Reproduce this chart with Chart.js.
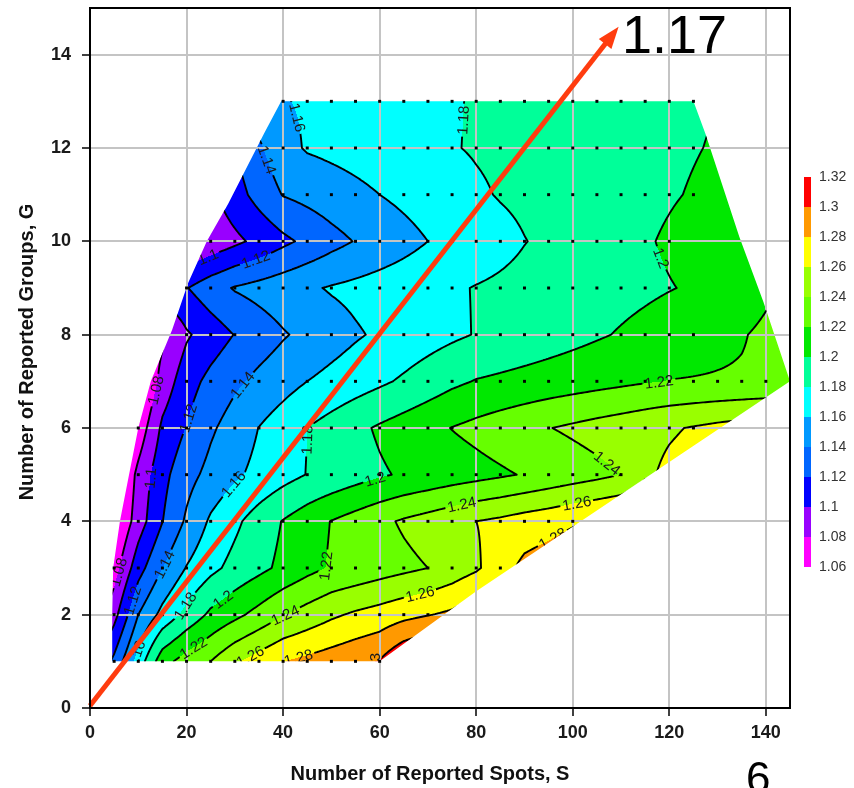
<!DOCTYPE html>
<html><head><meta charset="utf-8">
<script src="https://cdn.jsdelivr.net/npm/chart.js@4.4.1/dist/chart.umd.min.js"></script>
<style>html,body{margin:0;padding:0;background:#fff;}canvas{display:block;}</style>
</head><body>
<canvas id="c" width="854" height="788"></canvas>
<script>
// ---- data ----
const sCols = [0,5,10,15,20,25,30,35,40,45,50,55,60,65,70,75,80,85,90,95,100,105,110,115,120,125,130,135,140,145];
const gRows = [1,2,3,4,5,6,7,8,9,10,11,12,13];
const g1  = [1.09,1.125,1.168,1.212,1.229,1.24,1.257,1.269,1.28,1.285,1.29,1.2955,1.301,1.32,1.33,1.335,1.34,1.34,1.34,1.34,1.34,1.34,1.34,1.34,1.34,1.34,1.34,1.34,1.34,1.34];
const g2  = [1.06,1.093,1.14,1.166,1.186,1.204,1.215,1.2265,1.239,1.248,1.2566,1.263,1.268,1.274,1.279,1.284,1.295,1.305,1.31,1.31,1.31,1.31,1.31,1.31,1.31,1.31,1.31,1.31,1.31,1.31];
const g3  = [1.04,1.071,1.112,1.14,1.161,1.175,1.186,1.195,1.2045,1.214,1.222,1.226,1.231,1.2355,1.24,1.248,1.257,1.272,1.285,1.29,1.295,1.295,1.295,1.295,1.295,1.295,1.295,1.295,1.295,1.295];
const g4  = [1.02,1.055,1.09,1.1195,1.143,1.163,1.176,1.189,1.201,1.211,1.2206,1.228,1.2355,1.2424,1.248,1.254,1.26,1.264,1.269,1.273,1.2778,1.282,1.286,1.29,1.29,1.29,1.29,1.29,1.29,1.29];
const g5  = [1.01,1.047,1.0856,1.114,1.133,1.146,1.157,1.165,1.173,1.1806,1.186,1.192,1.1977,1.2023,1.206,1.21,1.2135,1.2173,1.2213,1.226,1.2306,1.235,1.24,1.2567,1.264,1.268,1.27,1.272,1.274,1.276];
const g6  = [1.0,1.04,1.067,1.104,1.121,1.137,1.149,1.1604,1.17,1.18,1.1877,1.1954,1.2024,1.2085,1.2145,1.2205,1.2252,1.23,1.2347,1.2394,1.2432,1.247,1.2505,1.2542,1.2578,1.2614,1.265,1.268,1.27,1.272];
const g7  = [1.0,1.02,1.05,1.0877,1.1117,1.1256,1.1363,1.145,1.1525,1.16,1.1656,1.1711,1.1767,1.1827,1.1893,1.196,1.201,1.2035,1.206,1.2085,1.211,1.2135,1.216,1.2185,1.2205,1.221,1.2215,1.222,1.223,1.224];
const g8  = [1.04,1.05,1.06,1.076,1.0975,1.1093,1.1207,1.1295,1.1382,1.1451,1.1515,1.1578,1.163,1.1675,1.1721,1.1766,1.1809,1.1843,1.1877,1.1911,1.1945,1.198,1.2014,1.2048,1.2083,1.2117,1.2152,1.2186,1.224,1.23];
const g9  = [1.07,1.09,1.10,1.11,1.119,1.1318,1.1415,1.1467,1.152,1.1573,1.1616,1.1648,1.1681,1.1713,1.1746,1.1778,1.1808,1.1831,1.1854,1.1877,1.19,1.1923,1.1946,1.1969,1.1993,1.2016,1.204,1.208,1.216,1.222];
const g10 = [1.04,1.05,1.06,1.07,1.078,1.086,1.0955,1.1052,1.1155,1.1246,1.1336,1.1409,1.1473,1.1536,1.16,1.1649,1.1698,1.1746,1.1795,1.1833,1.1872,1.1909,1.1947,1.1985,1.202,1.2055,1.209,1.2125,1.216,1.219];
const g11 = [1.05,1.055,1.06,1.07,1.08,1.096,1.1116,1.1272,1.1409,1.1456,1.1504,1.1552,1.16,1.1644,1.1688,1.1732,1.1775,1.1811,1.1836,1.1861,1.1886,1.1911,1.1936,1.1961,1.1986,1.2011,1.2036,1.206,1.208,1.21];
const g12 = [1.06,1.065,1.07,1.075,1.09,1.105,1.12,1.137,1.1536,1.1618,1.1647,1.1675,1.1705,1.1733,1.1762,1.1791,1.1814,1.1833,1.1853,1.1873,1.1893,1.1913,1.1933,1.1952,1.1972,1.1992,1.2012,1.203,1.205,1.207];
const g13 = [1.08,1.085,1.09,1.10,1.12,1.13,1.145,1.152,1.159,1.162,1.165,1.168,1.171,1.173,1.176,1.179,1.181,1.183,1.186,1.188,1.19,1.192,1.194,1.195,1.197,1.198,1.2,1.202,1.204,1.206];
const gridRows = [g1,g2,g3,g4,g5,g6,g7,g8,g9,g10,g11,g12,g13];

// data hull (S, G)
const hullS = [4.6,60,80,145,139.5,134.5,127.5,125,39.6,36,28.6,24.2,20.3,17,12.6,10,7.9,6.2,4.8,4.6];
const hullG = [1,1,2.5,7,8.7,10.1,12.3,13,13,12.3,10.8,10,9.1,8.1,7,6,4.9,4,3,2];

// sample points per row (first and last S)
const dotFirst = [5,5,5,10,10,10,20,20,20,25,40,40,40];
const dotLast  = [60,70,85,100,110,125,140,125,120,120,125,125,125];

const levels = [1.06,1.08,1.10,1.12,1.14,1.16,1.18,1.20,1.22,1.24,1.26,1.28,1.30,1.32];
const bandColors = ['#ff00ff','#9900ff','#0000ff','#0066ff','#0099ff','#00ffff','#00ff99','#00e800','#66ff00','#99ff00','#ffff00','#ff9900','#ff0000'];

const arrowS = [0, 109.5];
const arrowG = [0.05, 14.6];

const contourLabels = [
 ['1.16',41.5,12.6],['1.18',76.6,12.6],['1.14',32,11.6],['1.12',34,9.7],['1.1',24.5,9.65],['1.2',119,9.67],
 ['1.08',14,6.8],['1.12',20.7,6.2],['1.14',31,6.97],['1.16',28.6,4.9],['1.18',44,5.75],['1.1',12,4.93],
 ['1.2',59,4.93],['1.22',118,6.86],['1.24',108,5.36],['1.24',77,4.35],['1.26',100.8,4.4],['1.28',96,3.6],
 ['1.22',50.7,2.96],['1.26',68.3,2.47],['1.24',40.4,2.0],['1.2',27.3,2.36],['1.18',20,2.17],['1.14',15.5,3.07],
 ['1.12',8.9,2.3],['1.08',6.2,2.9],['1.16',9.3,1.15],['1.22',21.7,1.24],['1.26',32.7,1.2],['1.28',43,1.14],['1.3',57.4,1.14]
];

// ---- helpers ----
const FONT = '"Liberation Sans", Arial, Helvetica, sans-serif';
const sStep = sCols[1]-sCols[0];
function field(S,G){
  let fi = (S - sCols[0]) / sStep, fj = G - gRows[0];
  fi = Math.max(0, Math.min(sCols.length-1.000001, fi));
  fj = Math.max(0, Math.min(gRows.length-1.000001, fj));
  const i = Math.floor(fi), j = Math.floor(fj), u = fi-i, v = fj-j;
  const r0 = gridRows[j], r1 = gridRows[j+1];
  return (r0[i]*(1-u)+r0[i+1]*u)*(1-v) + (r1[i]*(1-u)+r1[i+1]*u)*v;
}
function bandOf(v){ let k=0; while(k<bandColors.length-1 && v>=levels[k+1]-1e-9) k++; return k; }
function hexRgb(h){ return [parseInt(h.substr(1,2),16),parseInt(h.substr(3,2),16),parseInt(h.substr(5,2),16)]; }
function hullPath(ctx,x,y){
  ctx.beginPath();
  hullS.forEach((s,k)=>{ const px=x.getPixelForValue(s), py=y.getPixelForValue(hullG[k]); if(k) ctx.lineTo(px,py); else ctx.moveTo(px,py); });
  ctx.closePath();
}

const dotPoints = [];
gRows.forEach((g,j)=>{ for(let s=dotFirst[j]; s<=dotLast[j]; s+=5) dotPoints.push({x:s,y:g}); });

const contourPlugin = {
  id:'contourField',
  beforeDraw(chart){
    const {ctx, chartArea:a, scales:{x,y}} = chart;
    const L = Math.round(a.left), T = Math.round(a.top);
    const w = Math.round(a.right)-L, h = Math.round(a.bottom)-T;
    const off = document.createElement('canvas'); off.width=w; off.height=h;
    const octx = off.getContext('2d'); const img = octx.createImageData(w,h);
    const rgb = bandColors.map(hexRgb);
    const Sx = new Float64Array(w); for(let px=0;px<w;px++) Sx[px]=x.getValueForPixel(L+px+0.5);
    for(let py=0;py<h;py++){
      const G = y.getValueForPixel(T+py+0.5);
      for(let px=0;px<w;px++){
        const c = rgb[bandOf(field(Sx[px],G))];
        const o=(py*w+px)*4; img.data[o]=c[0]; img.data[o+1]=c[1]; img.data[o+2]=c[2]; img.data[o+3]=255;
      }
    }
    octx.putImageData(img,0,0);
    ctx.save(); hullPath(ctx,x,y); ctx.clip(); ctx.drawImage(off,L,T); ctx.restore();
  },
  beforeDatasetsDraw(chart){
    const {ctx, chartArea:a, scales:{x,y}} = chart;
    const fpx=(px,py)=>field(x.getValueForPixel(px), y.getValueForPixel(py));
    ctx.font = '15px '+FONT;
    const labs=[];
    contourLabels.forEach(([t,s0,g0])=>{
      const Lv=parseFloat(t); let px=x.getPixelForValue(s0), py=y.getPixelForValue(g0); const px0=px, py0=py;
      let ok=false;
      for(let it=0;it<40;it++){
        const f=fpx(px,py)-Lv; const gx=(fpx(px+1,py)-fpx(px-1,py))/2, gy=(fpx(px,py+1)-fpx(px,py-1))/2;
        const g2=gx*gx+gy*gy; if(g2<1e-16) break;
        let dx=-f*gx/g2, dy=-f*gy/g2; const m=Math.hypot(dx,dy); if(m>3){dx*=3/m;dy*=3/m;}
        px+=dx; py+=dy; if(Math.abs(f)<1e-6){ok=true;break;}
      }
      if(!ok || Math.hypot(px-px0,py-py0)>30) return;
      const gx=(fpx(px+1,py)-fpx(px-1,py)), gy=(fpx(px,py+1)-fpx(px,py-1));
      let ang=Math.atan2(gx,-gy);
      while(ang>=Math.PI/2) ang-=Math.PI; while(ang<-Math.PI/2) ang+=Math.PI;
      labs.push({t,px,py,ang,w:ctx.measureText(t).width});
    });
    const dS=0.5,dG=0.05, nx=Math.round(145/dS), ny=Math.round(12/dG);
    const V=new Float64Array((nx+1)*(ny+1));
    for(let j=0;j<=ny;j++) for(let i=0;i<=nx;i++) V[j*(nx+1)+i]=field(i*dS,1+j*dG);
    const pxS=(s)=>x.getPixelForValue(s), pyG=(g)=>y.getPixelForValue(g);
    ctx.save();
    hullPath(ctx,x,y); ctx.clip();
    ctx.beginPath(); ctx.rect(a.left-5,a.top-5,a.right-a.left+10,a.bottom-a.top+10);
    labs.forEach(l=>{
      const c=Math.cos(l.ang), s=Math.sin(l.ang), hw=l.w/2+2, hh=6.5;
      const pts=[[-hw,-hh],[hw,-hh],[hw,hh],[-hw,hh]].map(([u,v])=>[l.px+u*c-v*s, l.py+u*s+v*c]);
      ctx.moveTo(pts[0][0],pts[0][1]); for(let k=1;k<4;k++) ctx.lineTo(pts[k][0],pts[k][1]); ctx.closePath();
    });
    ctx.clip('evenodd');
    ctx.strokeStyle='#000'; ctx.lineWidth=1.9; ctx.lineCap='round'; ctx.lineJoin='round';
    for(let li=1; li<levels.length-1; li++){
      const Lv=levels[li];
      ctx.beginPath();
      for(let j=0;j<ny;j++){
        for(let i=0;i<nx;i++){
          const A=V[j*(nx+1)+i], B=V[j*(nx+1)+i+1], C=V[(j+1)*(nx+1)+i+1], D=V[(j+1)*(nx+1)+i];
          const idx=(A>Lv?1:0)|(B>Lv?2:0)|(C>Lv?4:0)|(D>Lv?8:0);
          if(idx===0||idx===15) continue;
          const ep=(e)=>{
            let s,g;
            if(e===0){const t=(Lv-A)/(B-A); s=(i+t)*dS; g=1+j*dG;}
            else if(e===1){const t=(Lv-B)/(C-B); s=(i+1)*dS; g=1+(j+t)*dG;}
            else if(e===2){const t=(Lv-D)/(C-D); s=(i+t)*dS; g=1+(j+1)*dG;}
            else {const t=(Lv-A)/(D-A); s=i*dS; g=1+(j+t)*dG;}
            return [pxS(s),pyG(g)];
          };
          let segs;
          const ctr=(A+B+C+D)/4;
          switch(idx){
            case 1: case 14: segs=[[3,0]]; break;
            case 2: case 13: segs=[[0,1]]; break;
            case 3: case 12: segs=[[3,1]]; break;
            case 4: case 11: segs=[[1,2]]; break;
            case 6: case 9: segs=[[0,2]]; break;
            case 7: case 8: segs=[[3,2]]; break;
            case 5: segs = ctr>Lv ? [[0,1],[2,3]] : [[3,0],[1,2]]; break;
            case 10: segs = ctr>Lv ? [[3,0],[1,2]] : [[0,1],[2,3]]; break;
          }
          segs.forEach(([e1,e2])=>{const p=ep(e1),q=ep(e2); ctx.moveTo(p[0],p[1]); ctx.lineTo(q[0],q[1]);});
        }
      }
      ctx.stroke();
    }
    ctx.restore();
    ctx.save(); hullPath(ctx,x,y); ctx.clip();
    ctx.fillStyle='#1a1a1a'; ctx.font='15px '+FONT; ctx.textAlign='center'; ctx.textBaseline='middle';
    labs.forEach(l=>{ ctx.save(); ctx.translate(l.px,l.py); ctx.rotate(l.ang); ctx.fillText(l.t,0,1); ctx.restore(); });
    ctx.restore();
  },
  afterDatasetsDraw(chart){
    const {ctx, scales:{x,y}} = chart;
    const x0=x.getPixelForValue(arrowS[0]), y0=y.getPixelForValue(arrowG[0]);
    const x1=x.getPixelForValue(arrowS[1]), y1=y.getPixelForValue(arrowG[1]);
    const ang=Math.atan2(y1-y0,x1-x0), hl=22, hw=8;
    const bx=x1-hl*Math.cos(ang), by=y1-hl*Math.sin(ang);
    ctx.save();
    ctx.strokeStyle='#ff3c0f'; ctx.fillStyle='#ff3c0f'; ctx.lineWidth=5; ctx.lineCap='butt';
    ctx.beginPath(); ctx.moveTo(x0,y0); ctx.lineTo(bx+2*Math.cos(ang),by+2*Math.sin(ang)); ctx.stroke();
    ctx.beginPath(); ctx.moveTo(x1,y1);
    ctx.lineTo(bx+hw*Math.sin(ang), by-hw*Math.cos(ang));
    ctx.lineTo(bx-hw*Math.sin(ang), by+hw*Math.cos(ang)); ctx.closePath(); ctx.fill();
    ctx.restore();
  },
  afterDraw(chart){
    const {ctx, chartArea:a} = chart;
    ctx.save();
    ctx.strokeStyle='#000'; ctx.lineWidth=2;
    ctx.strokeRect(a.left, a.top, a.right-a.left, a.bottom-a.top);
    const lx=804, lw=7, ltop=177, segH=30, n=bandColors.length;
    for(let k=0;k<n;k++){ ctx.fillStyle=bandColors[n-1-k]; ctx.fillRect(lx, ltop+k*segH, lw, segH); }
    ctx.fillStyle='#333'; ctx.font='14px '+FONT; ctx.textAlign='left'; ctx.textBaseline='middle';
    for(let k=0;k<levels.length;k++){ ctx.fillText(String(levels[levels.length-1-k]), 819, ltop+k*segH); }
    ctx.fillStyle='#111'; ctx.font='bold 20px '+FONT; ctx.textAlign='center'; ctx.textBaseline='alphabetic';
    ctx.fillText('Number of Reported Spots, S', 430, 780);
    ctx.save(); ctx.translate(33,352); ctx.rotate(-Math.PI/2); ctx.fillText('Number of Reported Groups, G',0,0); ctx.restore();
    ctx.fillStyle='#000'; ctx.font='54px '+FONT; ctx.textAlign='left';
    ctx.fillText('1.17', 622, 53);
    ctx.font='44px '+FONT;
    ctx.fillText('6', 746, 793);
    ctx.restore();
  }
};

const tickFont = {family:FONT, size:18, weight:'bold'};
new Chart(document.getElementById('c'), {
  type:'scatter',
  data:{datasets:[{data:dotPoints, pointStyle:'rect', pointRadius:2.1, pointHoverRadius:2.1, backgroundColor:'#000', borderWidth:0}]},
  options:{
    responsive:false, animation:false, devicePixelRatio:1, events:[],
    layout:{padding:{left:0, top:8, right:64, bottom:0}},
    plugins:{legend:{display:false}, tooltip:{enabled:false}, title:{display:false}},
    scales:{
      x:{type:'linear', min:0, max:145, afterFit(s){ s.height=80; s.paddingLeft=0; s.paddingRight=0; },
         ticks:{stepSize:20, includeBounds:false, font:tickFont, color:'#1a1a1a', padding:6, maxRotation:0},
         grid:{color:'#c4c4c4', lineWidth:2, tickLength:8, tickColor:'#000', tickWidth:1.5},
         border:{display:false}},
      y:{type:'linear', min:0, max:15, afterFit(s){ s.width=90; s.paddingTop=0; s.paddingBottom=0; },
         ticks:{stepSize:2, includeBounds:false, font:tickFont, color:'#1a1a1a', padding:11},
         grid:{color:'#c4c4c4', lineWidth:2, tickLength:8, tickColor:'#000', tickWidth:1.5},
         border:{display:false}}
    }
  },
  plugins:[contourPlugin]
});
</script>
</body></html>
